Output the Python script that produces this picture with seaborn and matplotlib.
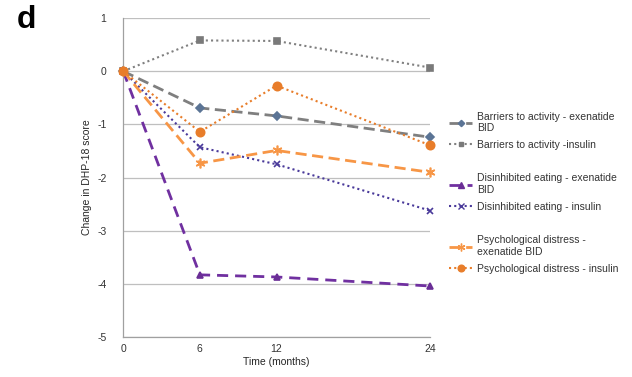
import matplotlib
matplotlib.use("Agg")
import matplotlib.pyplot as plt
import seaborn as sns
import pandas as pd
from matplotlib.lines import Line2D

months = [0, 6, 12, 24]

barriers_exenatide = [0, -0.69, -0.84, -1.24]
barriers_insulin = [0, 0.58, 0.57, 0.07]
disinhibited_exenatide = [0, -3.83, -3.87, -4.04]
disinhibited_insulin = [0, -1.43, -1.75, -2.62]
psych_exenatide = [0, -1.73, -1.49, -1.90]
psych_insulin = [0, -1.14, -0.27, -1.39]

labels = [
    "Barriers to activity - exenatide\nBID",
    "Barriers to activity -insulin",
    "Disinhibited eating - exenatide\nBID",
    "Disinhibited eating - insulin",
    "Psychological distress -\nexenatide BID",
    "Psychological distress - insulin",
]
series = [barriers_exenatide, barriers_insulin, disinhibited_exenatide,
          disinhibited_insulin, psych_exenatide, psych_insulin]

# line colour, marker colour, marker, dashes, linewidth, marker size
styles = [
    ("#7f7f7f", "#5b7495", "D", (4, 2), 2.0, 4),
    ("#808080", "#7a7a7a", "s", (1, 1.5), 1.5, 4),
    ("#7030a0", "#6a2e96", "^", (4, 2.5), 2.0, 5),
    ("#4a3a9a", "#4a3a9a", "x", (1, 1.5), 1.5, 5),
    ("#f79646", "#f79646", (6, 2, 0), (4, 2), 2.0, 7),
    ("#e87d2a", "#e87d2a", "o", (1, 1.5), 1.5, 6),
]

sns.set_style("white")
plt.rcParams["font.family"] = ["Liberation Sans", "DejaVu Sans"]
plt.rcParams["axes.unicode_minus"] = False
plt.rcParams["text.color"] = "#333333"
plt.rcParams["xtick.labelcolor"] = "#333333"
plt.rcParams["ytick.labelcolor"] = "#333333"

fig = plt.figure(figsize=(6.32, 3.77), dpi=100)
ax = fig.add_axes([0.195, 0.106, 0.485, 0.846])

handles = []
for vals, lab, (lc, mc, mk, ds, lw, ms) in zip(series, labels, styles):
    df = pd.DataFrame({"Time": months, "Change": vals})
    sns.lineplot(data=df, x="Time", y="Change", ax=ax, color=lc, linewidth=lw,
                 dashes=False, zorder=3)
    line = ax.lines[-1]
    line.set_dashes(ds)
    line.set_clip_on(False)
    ax.plot(months, vals, linestyle="none", marker=mk, markersize=ms,
            color=mc, markeredgecolor=mc, markeredgewidth=1.2, zorder=4,
            clip_on=False)
    h = Line2D([0], [0], color=lc, linewidth=lw, dashes=ds, marker=mk,
               markersize=ms * 0.8, markerfacecolor=mc, markeredgecolor=mc)
    handles.append(h)

spacer = Line2D([0], [0], color="none")
leg_handles = [handles[0], handles[1], spacer, handles[2], handles[3], spacer,
               handles[4], handles[5]]
leg_labels = [labels[0], labels[1], "", labels[2], labels[3], "",
              labels[4], labels[5]]
ax.legend(leg_handles, leg_labels, loc="upper left", bbox_to_anchor=(1.05, 0.72),
          frameon=False, fontsize=7.5, handlelength=2.2, handletextpad=0.5,
          labelspacing=0.65, borderaxespad=0)

ax.set_xlim(0, 24)
ax.set_ylim(-5, 1)
ax.set_xticks(months)
ax.set_yticks(range(-5, 2))
ax.yaxis.grid(True, color="#bfbfbf", linewidth=0.9)
ax.xaxis.grid(False)
for s in ["top", "right"]:
    ax.spines[s].set_visible(False)
for s in ["left", "bottom"]:
    ax.spines[s].set_color("#a0a0a0")
    ax.spines[s].set_linewidth(0.9)
ax.tick_params(axis="y", length=4, color="#a0a0a0", labelsize=7.5, pad=8)
ax.tick_params(axis="x", length=0, labelsize=7.5, pad=5)
ax.set_xlabel("Time (months)", fontsize=7.5, labelpad=2)
ax.set_ylabel("Change in DHP-18 score", fontsize=7.5, labelpad=4)

fig.text(0.027, 0.925, "d", fontsize=23, fontweight="bold", color="black")

fig.savefig("out.png", dpi=100)
